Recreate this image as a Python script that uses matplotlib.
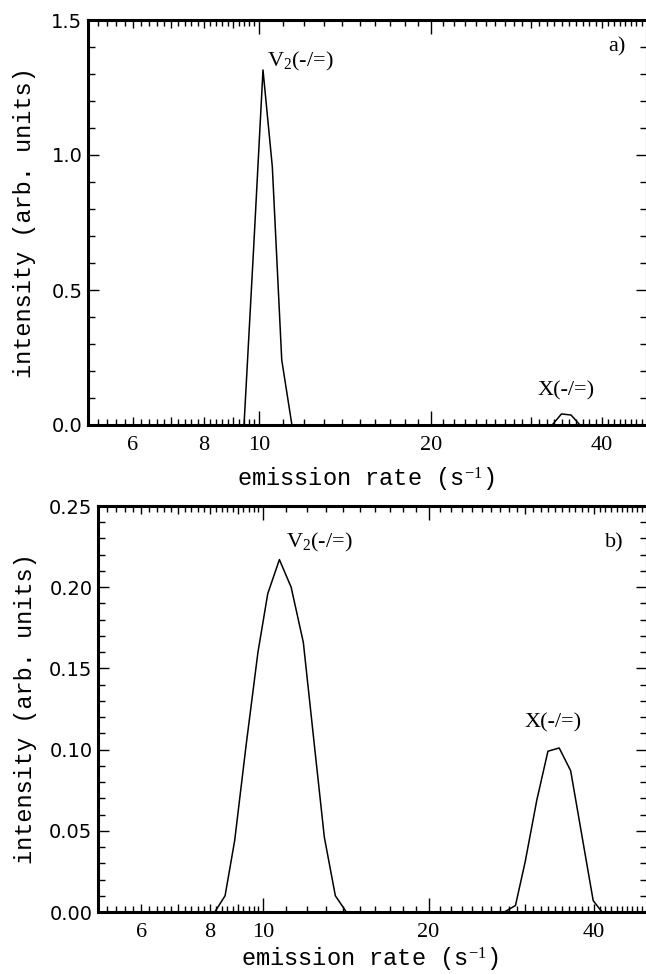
import numpy as np
import matplotlib
matplotlib.use("Agg")
import matplotlib.pyplot as plt
from matplotlib.ticker import FixedLocator, NullFormatter, FixedFormatter

plt.rcParams['mathtext.fontset'] = 'custom'
plt.rcParams['mathtext.rm'] = 'Liberation Serif'
plt.rcParams['mathtext.it'] = 'Liberation Serif:italic'

# ---------------- data ----------------
# panel a
rate_a = [5.0, 9.40, 9.77, 10.15, 10.54, 10.95, 11.41, 32.7, 33.96, 35.3, 36.6, 48.0]
inten_a = [0.0, 0.0, 0.65, 1.315, 0.957, 0.241, 0.0, 0.0, 0.041, 0.037, 0.0, 0.0]
# panel b
rate_b = [5.0, 8.16, 8.52, 8.87, 9.30, 9.78, 10.19, 10.70, 11.24, 11.83, 12.37, 12.92,
          13.53, 14.17, 27.5, 28.8, 30.0, 31.5, 33.0, 34.6, 36.3, 38.1, 39.9, 41.4, 50.0]
inten_b = [0.0, 0.0, 0.010, 0.044, 0.102, 0.160, 0.196, 0.217, 0.200, 0.166, 0.105,
           0.046, 0.010, 0.0, 0.0, 0.004, 0.031, 0.069, 0.099, 0.101, 0.087, 0.046,
           0.007, 0.0, 0.0]

xtick_vals = [6, 8, 10, 20, 40]
xtick_labels = ["6", "8", "10", "20", "40"]
ytick_a = [0.0, 0.5, 1.0, 1.5]
ytick_a_labels = ["0.0", "0.5", "1.0", "1.5"]
ytick_b = [0.0, 0.05, 0.10, 0.15, 0.20, 0.25]
ytick_b_labels = ["0.00", "0.05", "0.10", "0.15", "0.20", "0.25"]
peak_label_v2 = r"V$_2$(-/=)"
peak_label_x = "X(-/=)"

W, H = 646, 974
fig = plt.figure(figsize=(W / 100, H / 100), dpi=100)

def frac(left, top, right, bottom):
    return [left / W, 1 - bottom / H, (right - left) / W, (bottom - top) / H]

ax_a = fig.add_axes(frac(88, 20, 647, 425))
ax_b = fig.add_axes(frac(98, 506, 647, 912))

mono = "Liberation Mono"
serif = "Liberation Serif"
sans = "DejaVu Sans"

minor_x = sorted(set([round(5 + 0.2 * i, 2) for i in range(0, 26)] +
                     list(range(11, 51))) - set(xtick_vals))
medium_x = [5, 7, 9, 30, 50]

def style(ax, xlim, ylim, yt, ytl, yminor_step):
    ax.set_xscale('log')
    ax.set_xlim(*xlim)
    ax.set_ylim(*ylim)
    ax.xaxis.set_major_locator(FixedLocator(xtick_vals))
    ax.xaxis.set_major_formatter(FixedFormatter(xtick_labels))
    ax.xaxis.set_minor_locator(FixedLocator(minor_x))
    ax.xaxis.set_minor_formatter(NullFormatter())
    ax.yaxis.set_major_locator(FixedLocator(yt))
    ax.yaxis.set_major_formatter(FixedFormatter(ytl))
    ym = np.arange(0, ylim[1] + 1e-9, yminor_step)
    ax.yaxis.set_minor_locator(FixedLocator(ym))
    ax.tick_params(which='both', direction='in', top=True, right=True, width=1.0)
    ax.tick_params(axis='x', which='major', length=8, pad=8)
    ax.tick_params(axis='x', which='minor', length=4)
    ax.tick_params(axis='y', which='major', length=8, pad=4)
    ax.tick_params(axis='y', which='minor', length=5)
    for lab in ax.get_xticklabels():
        lab.set_fontfamily(serif)
        lab.set_fontsize(16)
    for lab in ax.get_yticklabels():
        lab.set_fontfamily(sans)
        lab.set_fontsize(14)
    for t, v in zip(ax.xaxis.get_minor_ticks(), minor_x):
        if v in medium_x:
            t.tick1line.set_markersize(6)
            t.tick2line.set_markersize(6)
    for t, v in zip(ax.xaxis.get_major_ticks(), xtick_vals):
        if v in (6, 8, 40):
            t.tick1line.set_markersize(6)
            t.tick2line.set_markersize(6)
        else:
            t.tick1line.set_markersize(10)
            t.tick2line.set_markersize(10)
    for sp in ax.spines.values():
        sp.set_linewidth(2.2)
    ax.set_xlabel(r"emission rate (s$^{-1}$)", fontfamily=mono, fontsize=17)
    ax.set_ylabel("intensity (arb. units)", fontfamily=mono, fontsize=17)

style(ax_a, (5, 48), (0, 1.5), ytick_a, ytick_a_labels, 0.1)
style(ax_b, (5, 50), (0, 0.25), ytick_b, ytick_b_labels, 0.01)

ax_a.plot(rate_a, inten_a, color='black', lw=1.1, clip_on=False, zorder=3)
ax_b.plot(rate_b, inten_b, color='black', lw=1.1, clip_on=False, zorder=3)

ax_a.xaxis.set_label_coords(0.496, -0.10)
ax_a.yaxis.set_label_coords(-0.093, 0.5)
ax_b.xaxis.set_label_coords(0.495, -0.083)
ax_b.yaxis.set_label_coords(-0.112, 0.5)

ia = int(np.argmax(inten_a))
ax_a.annotate(peak_label_v2, (rate_a[ia], inten_a[ia]), xytext=(4, 8),
              textcoords='offset pixels', ha='left', va='center',
              fontfamily=serif, fontsize=16)
ax_a.annotate(peak_label_x, (rate_a[8], inten_a[8]), xytext=(5, 23),
              textcoords='offset pixels', ha='center', va='center',
              fontfamily=serif, fontsize=16)
ib = int(np.argmax(inten_b))
ax_b.annotate(peak_label_v2, (rate_b[ib], inten_b[ib]), xytext=(7, 17),
              textcoords='offset pixels', ha='left', va='center',
              fontfamily=serif, fontsize=16)
ax_b.annotate(peak_label_x, (rate_b[19], inten_b[19]), xytext=(-6, 25),
              textcoords='offset pixels', ha='center', va='center',
              fontfamily=serif, fontsize=16)

ax_a.text(0.946, 0.933, "a)", transform=ax_a.transAxes, ha='center', va='center',
          fontfamily=serif, fontsize=16)
ax_b.text(0.94, 0.909, "b)", transform=ax_b.transAxes, ha='center', va='center',
          fontfamily=serif, fontsize=16)

fig.savefig("out.png", dpi=100)
